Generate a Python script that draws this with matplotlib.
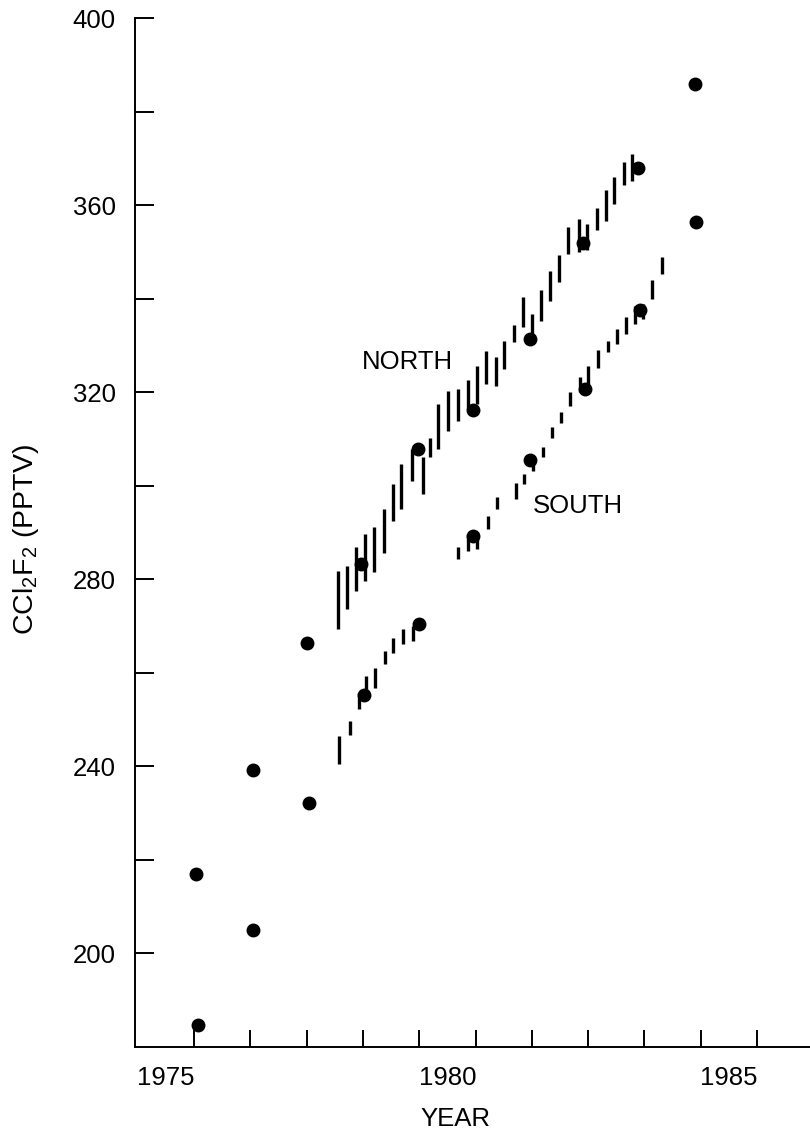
import numpy as np
import matplotlib
matplotlib.use('Agg')
import matplotlib.pyplot as plt

plt.rcParams['font.family'] = ['Liberation Sans', 'DejaVu Sans']
plt.rcParams['mathtext.fontset'] = 'custom'
plt.rcParams['mathtext.rm'] = 'Liberation Sans'

# Datos: tramos bimestrales (rango min-max), hemisferio norte
north_t = [1978.06, 1978.22, 1978.38, 1978.54, 1978.69, 1978.87, 1979.03, 1979.18,
           1979.37, 1979.56, 1979.69, 1979.84, 1980.01, 1980.19, 1980.37, 1980.52,
           1980.69, 1980.86, 1981.01, 1981.18, 1981.34, 1981.51, 1981.67, 1981.82,
           1981.99, 1982.15, 1982.33, 1982.48, 1982.65, 1982.82, 1982.96, 1983.13,
           1983.27]
north_hi = [281.8, 282.9, 286.8, 289.7, 291.2, 295.0, 300.4, 304.6, 307.9, 306.1,
            310.3, 317.5, 320.3, 320.7, 322.5, 325.7, 328.9, 327.5, 331.0, 334.3,
            340.3, 336.8, 341.8, 346.0, 349.3, 355.3, 357.1, 356.0, 359.3, 363.2,
            366.0, 369.2, 371.0]
north_lo = [269.3, 273.6, 277.5, 279.7, 281.6, 285.7, 292.5, 295.0, 301.1, 298.2,
            306.1, 307.9, 311.8, 313.9, 316.4, 317.5, 321.8, 321.4, 325.0, 330.7,
            333.9, 331.0, 335.3, 339.6, 343.5, 349.6, 350.0, 350.3, 354.6, 356.7,
            360.3, 364.2, 365.2]

# hemisferio sur
south_t = [1978.08, 1978.26, 1978.42, 1978.56, 1978.71, 1978.89, 1979.04, 1979.21,
           1979.38, 1980.19, 1980.37, 1980.52, 1980.72, 1980.88, 1981.22, 1981.36,
           1981.52, 1981.70, 1981.85, 1982.01, 1982.18, 1982.36, 1982.50, 1982.68,
           1982.85, 1983.01, 1983.17, 1983.33, 1983.47, 1983.63, 1983.81]
south_hi = [246.5, 249.7, 255.7, 259.3, 261.1, 264.7, 267.5, 269.3, 270.0, 286.8,
            289.7, 290.0, 293.6, 297.5, 300.5, 302.5, 305.8, 308.2, 312.5, 315.7,
            320.0, 323.2, 325.7, 329.1, 331.0, 333.6, 336.0, 338.5, 338.9, 343.9,
            348.9]
south_lo = [240.4, 246.8, 252.2, 255.7, 256.8, 261.8, 264.3, 266.1, 266.8, 284.3,
            286.1, 286.4, 290.7, 295.0, 297.2, 300.4, 303.2, 306.1, 310.3, 313.5,
            317.1, 320.0, 320.3, 325.1, 328.5, 330.3, 332.5, 334.6, 335.7, 340.0,
            345.3]

# Medias anuales (puntos)
upper_t = [1975.53, 1976.54, 1977.50, 1978.47, 1979.48, 1980.46, 1981.47, 1982.41, 1983.39, 1984.39]
upper_v = [216.9, 239.2, 266.4, 283.3, 307.9, 316.2, 331.4, 351.8, 368.0, 385.9]
lower_t = [1975.57, 1976.55, 1977.54, 1978.51, 1979.50, 1980.46, 1981.47, 1982.44, 1983.42, 1984.41]
lower_v = [184.6, 205.0, 232.1, 255.2, 270.5, 289.3, 305.4, 320.7, 337.5, 356.3]

year_labels = [1975, 1980, 1985]

fig = plt.figure(figsize=(8.1, 11.4), dpi=100)
ax = fig.add_axes([0.1667, 0.0816, 0.8333, 0.9026])

ax.vlines(north_t, north_lo, north_hi, color='black', lw=2.4)
ax.vlines(south_t, south_lo, south_hi, color='black', lw=2.4)
ax.plot(upper_t, upper_v, 'o', color='black', ms=9, zorder=3)
ax.plot(lower_t, lower_v, 'o', color='black', ms=9, zorder=3)

ax.text(1978.48, 326.5, 'NORTH', fontsize=18.5, va='center', ha='left')
ax.text(1981.52, 295.7, 'SOUTH', fontsize=18.5, va='center', ha='left')

ax.set_xlim(1974.45, 1986.44)
ax.set_ylim(180, 400)

for s in ['top', 'right']:
    ax.spines[s].set_visible(False)
for s in ['left', 'bottom']:
    ax.spines[s].set_linewidth(1.4)

# Ejes: etiquetas en años, marcas a mitad de año
ax.set_xticks(year_labels)
ax.set_xticklabels([str(y) for y in year_labels])
ax.set_xticks(np.arange(1975.5, 1986, 1.0), minor=True)
ax.tick_params(axis='x', which='major', length=0, pad=14, labelsize=18.5)
ax.tick_params(axis='x', which='minor', direction='in', length=12, width=1.4)

ax.set_yticks(np.arange(200, 401, 40))
ax.set_yticks(np.arange(220, 400, 40), minor=True)
ax.tick_params(axis='y', which='both', direction='in', length=14, width=1.4)
ax.tick_params(axis='y', which='major', pad=14, labelsize=18.5)

ax.set_xlabel('YEAR', fontsize=18.5)
ax.xaxis.set_label_coords(0.474, -0.058)
ax.set_ylabel(r'CCl$_\mathregular{2}$F$_\mathregular{2}$ (PPTV)', fontsize=20.5)
ax.yaxis.set_label_coords(-0.14, 0.493)

fig.savefig('out.png', dpi=100)
